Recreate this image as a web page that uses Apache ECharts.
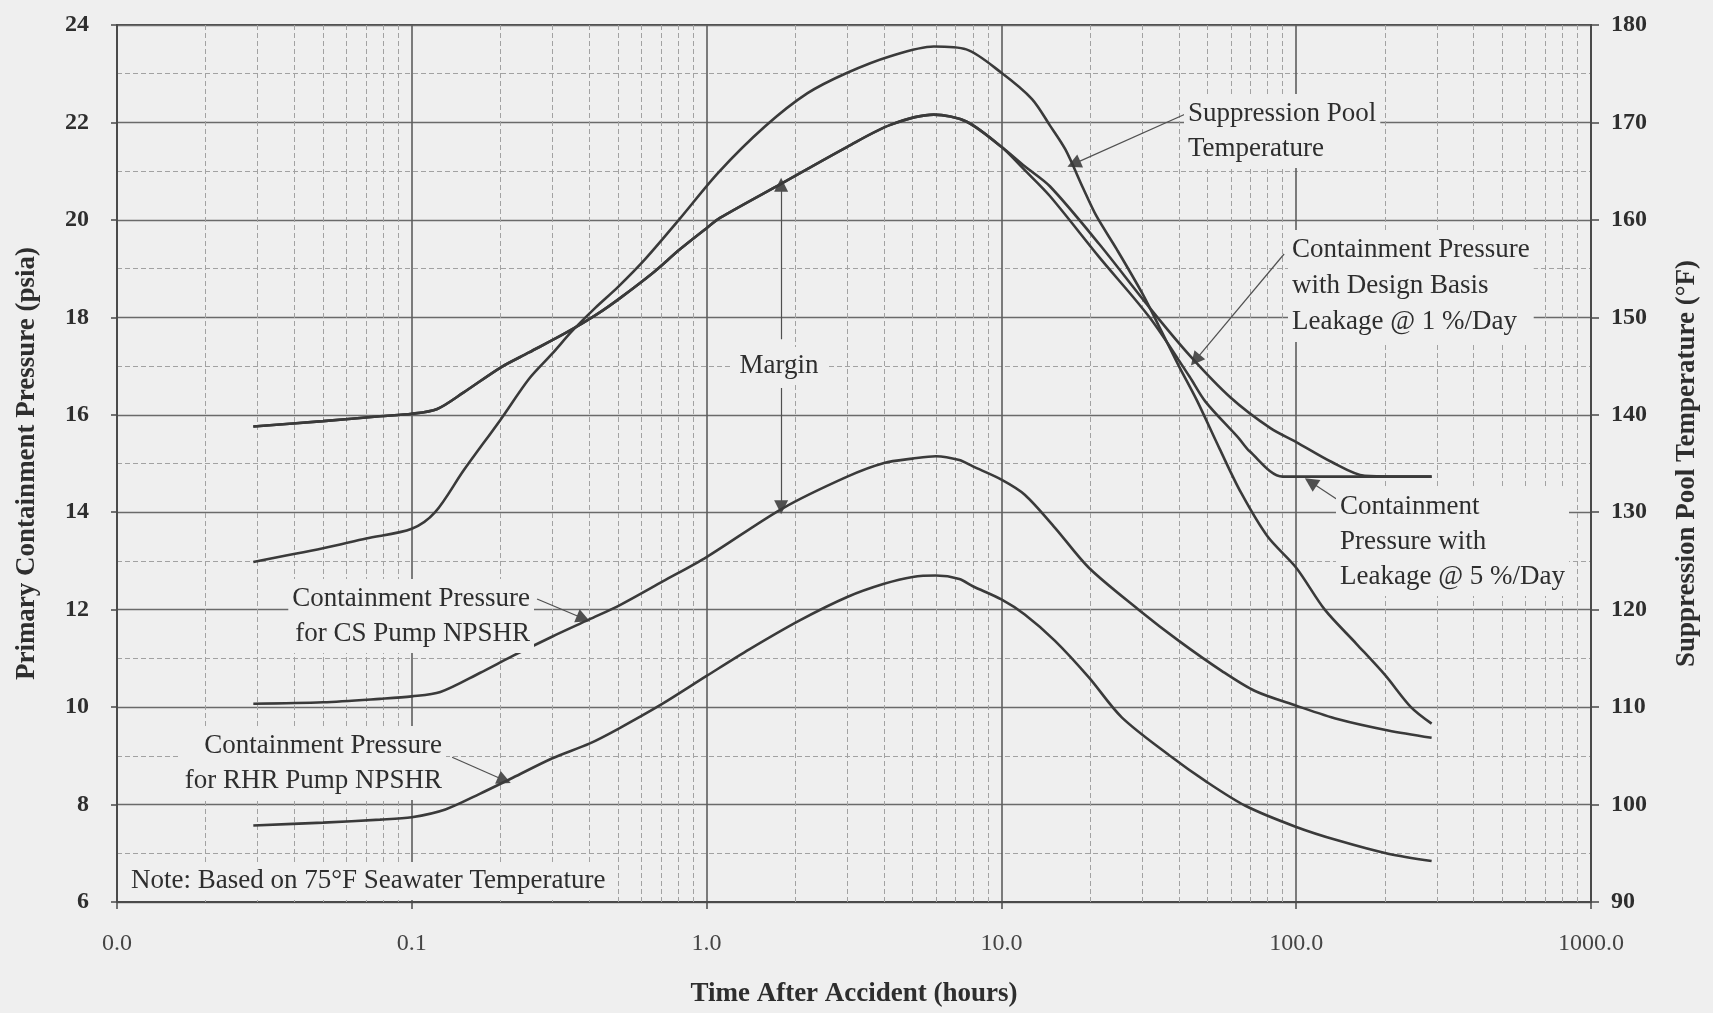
<!DOCTYPE html>
<html>
<head>
<meta charset="utf-8">
<script src="https://cdn.jsdelivr.net/npm/echarts@6/dist/echarts.min.js"></script>
<style>
html,body{margin:0;padding:0;background:#efefef;}
#c{width:1713px;height:1013px;}
</style>
</head>
<body>
<div id="c"></div>
<script>
// ---------- DATA ----------
const xTickLabels = ['0.0', '0.1', '1.0', '10.0', '100.0', '1000.0'];

// Suppression pool temperature (deg F, right axis)
const tA = [0.029,0.05,0.07,0.1,0.12,0.15,0.2,0.25,0.3,0.35,0.42,0.5,0.62,0.8,1.1,1.58,2.2,3.0,4.2,5.9,7.6,10,12.7,14.6,16.5,18.9,21,24.6,30,35,40,46,55,65,80,100,125,160,200,245,288];
const tempA = [124.9,126.3,127.3,128.3,130.0,134.3,139.5,143.7,146.3,148.6,151.0,153.1,156.0,159.9,164.9,169.6,173.0,175.1,176.8,177.8,177.5,175.1,172.4,169.7,167.2,163.3,160.4,157.0,152.5,148.5,145.0,141.5,136.5,132.0,127.5,124.3,120.0,116.5,113.3,110.0,108.3];

// Containment pressure, common part before leakage split (psia)
const tB = [0.029,0.05,0.078,0.1,0.122,0.15,0.2,0.25,0.335,0.424,0.51,0.66,0.81,1.0,1.11,1.8,3.0,4.2,5.9,7.6,10];
const pB = [15.76,15.87,15.97,16.02,16.12,16.46,16.97,17.28,17.69,18.06,18.4,18.92,19.39,19.83,20.04,20.75,21.5,21.95,22.16,22.02,21.5];
// Design basis leakage 1 %/day
const tB1 = [12,14.6,21.5,31.8,43.5,60,82,100,132,171,288];
const pB1 = [21.1,20.69,19.5,18.2,17.22,16.35,15.72,15.44,15.03,14.75,14.73];
// Leakage 5 %/day
const tB5 = [12,14.6,21.5,31.8,43.5,49.2,63.8,69.5,90,288];
const pB5 = [21.02,20.49,19.23,18.0,16.78,16.27,15.52,15.25,14.73,14.73];

// Containment pressure for CS pump NPSHR
const tC = [0.029,0.05,0.078,0.1,0.125,0.17,0.22,0.3,0.4,0.51,0.71,1.0,1.8,3.0,4.0,5.0,6.0,7.2,8.0,10,12,15.2,19.8,29.2,40,56,72.5,100,139,205,288];
const pC = [10.07,10.1,10.17,10.22,10.31,10.7,11.05,11.45,11.8,12.1,12.58,13.08,14.07,14.73,15.01,15.1,15.15,15.07,14.94,14.67,14.36,13.68,12.86,12.0,11.36,10.74,10.33,10.03,9.75,9.52,9.37];

// Containment pressure for RHR pump NPSHR
const tD = [0.029,0.05,0.078,0.1,0.13,0.17,0.22,0.3,0.4,0.5,0.7,1.0,1.4,2.07,3.0,4.0,5.0,6.0,7.2,8.0,10,12,15.2,19.8,25.6,37.9,49,67,100,139,205,288];
const pD = [7.57,7.63,7.69,7.74,7.9,8.22,8.55,8.95,9.25,9.55,10.05,10.64,11.19,11.78,12.26,12.53,12.67,12.7,12.63,12.48,12.21,11.9,11.36,10.61,9.79,8.97,8.49,7.98,7.54,7.26,6.99,6.84];

// ---------- BUILD ----------
const zip = (xs, ys) => xs.map((x, i) => [x, ys[i]]);
const FONT = '"Liberation Serif","Times New Roman",serif';
const BG = '#efefef';
const INK = '#2e2e2e';
const CURVE = '#3a3a3a';
const NOTE_SIZE = 27;

// minor log grid lines 2..9 in each decade
const minorX = [];
for (let k = -2; k <= 2; k++) for (let m = 2; m <= 9; m++) minorX.push(+(m * Math.pow(10, k)).toPrecision(3));

function curve(name, data, yIdx) {
  return {
    name, type: 'line', data, yAxisIndex: yIdx || 0,
    showSymbol: false, smooth: 0.3,
    lineStyle: { color: CURVE, width: 2.6 }, z: 5, silent: true
  };
}

function note(x, y, text, extra) {
  return {
    type: 'text', x, y, z: 100,
    style: Object.assign({ text, fontFamily: FONT, fontSize: NOTE_SIZE, fill: INK, lineHeight: 35, backgroundColor: BG, padding: [2, 4] }, extra || {})
  };
}

const arrowStyle = { color: '#505050', width: 1.2, type: 'solid' };

const option = {
  backgroundColor: BG,
  animation: false,
  grid: { left: 117, right: 122, top: 25, bottom: 109, show: true, borderColor: '#4a4a4a', borderWidth: 2 },
  xAxis: {
    type: 'log', logBase: 10, min: 0.01, max: 1000,
    name: 'Time After Accident (hours)', nameLocation: 'middle', nameGap: 79,
    nameTextStyle: { fontFamily: FONT, fontSize: 27, fontWeight: 'bold', color: INK },
    axisLine: { show: true, lineStyle: { color: '#4a4a4a', width: 2 } },
    axisTick: { show: true, length: 7, lineStyle: { color: '#4a4a4a', width: 1.5 } },
    axisLabel: {
      margin: 30, fontFamily: FONT, fontSize: 24, color: '#444',
      formatter: v => xTickLabels[Math.round(Math.log10(v)) + 2]
    },
    splitLine: { show: true, lineStyle: { color: '#5e5e5e', width: 1.6 } }
  },
  yAxis: [
    {
      type: 'value', min: 6, max: 24, interval: 2, position: 'left',
      name: 'Primary Containment Pressure (psia)', nameLocation: 'middle', nameGap: 76,
      nameTextStyle: { fontFamily: FONT, fontSize: 27, fontWeight: 'bold', color: INK },
      axisLine: { show: true, lineStyle: { color: '#4a4a4a', width: 2 } },
      axisTick: { show: true, length: 6, lineStyle: { color: '#4a4a4a', width: 1.5 } },
      axisLabel: { margin: 28, fontFamily: FONT, fontSize: 24, fontWeight: 'bold', color: INK },
      splitLine: { show: true, lineStyle: { color: '#6a6a6a', width: 1.4 } },
      minorTick: { show: false, splitNumber: 2 },
      minorSplitLine: { show: true, lineStyle: { color: '#a2a2a2', width: 1, type: [5, 3] } }
    },
    {
      type: 'value', min: 90, max: 180, interval: 10, position: 'right',
      name: 'Suppression Pool Temperature (°F)', nameLocation: 'middle', nameGap: 83, nameRotate: 90,
      nameTextStyle: { fontFamily: FONT, fontSize: 27, fontWeight: 'bold', color: INK },
      axisLine: { show: true, lineStyle: { color: '#4a4a4a', width: 2 } },
      axisTick: { show: true, length: 8, lineStyle: { color: '#4a4a4a', width: 1.5 } },
      axisLabel: { margin: 20, fontFamily: FONT, fontSize: 24, fontWeight: 'bold', color: INK },
      splitLine: { show: false }
    }
  ],
  series: [
    // minor vertical grid (log 2..9)
    {
      type: 'line', data: [], silent: true,
      markLine: {
        silent: true, symbol: 'none', animation: false, label: { show: false },
        lineStyle: { color: '#a2a2a2', width: 1, type: [5, 3] },
        data: minorX.map(v => ({ xAxis: v }))
      }
    },
    curve('Suppression Pool Temperature', zip(tA, tempA), 1),
    curve('Containment Pressure with Design Basis Leakage @ 1 %/Day', zip(tB.concat(tB1), pB.concat(pB1))),
    curve('Containment Pressure with Leakage @ 5 %/Day', zip(tB.concat(tB5), pB.concat(pB5))),
    curve('Containment Pressure for CS Pump NPSHR', zip(tC, pC)),
    curve('Containment Pressure for RHR Pump NPSHR', zip(tD, pD)),
    // annotation leader arrows
    {
      type: 'line', data: [], silent: true, z: 6,
      itemStyle: { color: '#333' },
      markLine: {
        silent: true, animation: false, label: { show: false },
        symbol: ['none', 'triangle'], symbolSize: 14,
        itemStyle: { color: '#2e2e2e' },
        lineStyle: arrowStyle,
        data: [
          [{ coord: [42.3, 22.18] }, { coord: [17.6, 21.15] }],
          [{ coord: [91, 19.3] }, { coord: [45.5, 17.12] }],
          [{ coord: [137, 14.27] }, { coord: [112, 14.62] }],
          [{ coord: [0.266, 12.22] }, { coord: [0.382, 11.82] }],
          [{ coord: [0.137, 8.97] }, { coord: [0.206, 8.5] }],
          [{ coord: [1.79, 17.55] }, { coord: [1.79, 20.72] }],
          [{ coord: [1.79, 16.55] }, { coord: [1.79, 14.1] }]
        ]
      }
    }
  ],
  graphic: [
    note(1184, 94, 'Suppression Pool\nTemperature'),
    note(1288, 230, 'Containment Pressure\nwith Design Basis\nLeakage @ 1 %/Day', { lineHeight: 36 }),
    note(1336, 487, 'Containment\nPressure with\nLeakage @ 5 %/Day'),
    note(534, 579, 'Containment Pressure\nfor CS Pump NPSHR', { align: 'right' }),
    note(446, 726, 'Containment Pressure\nfor RHR Pump NPSHR', { align: 'right' }),
    note(779, 366, 'Margin', { align: 'center', verticalAlign: 'middle', padding: [4, 8], lineHeight: 30 }),
    note(126, 862, 'Note: Based on 75°F Seawater Temperature', { padding: [3, 5], lineHeight: 32 })
  ]
};

const chart = echarts.init(document.getElementById('c'), null, { renderer: 'canvas' });
chart.setOption(option);
</script>
</body>
</html>
